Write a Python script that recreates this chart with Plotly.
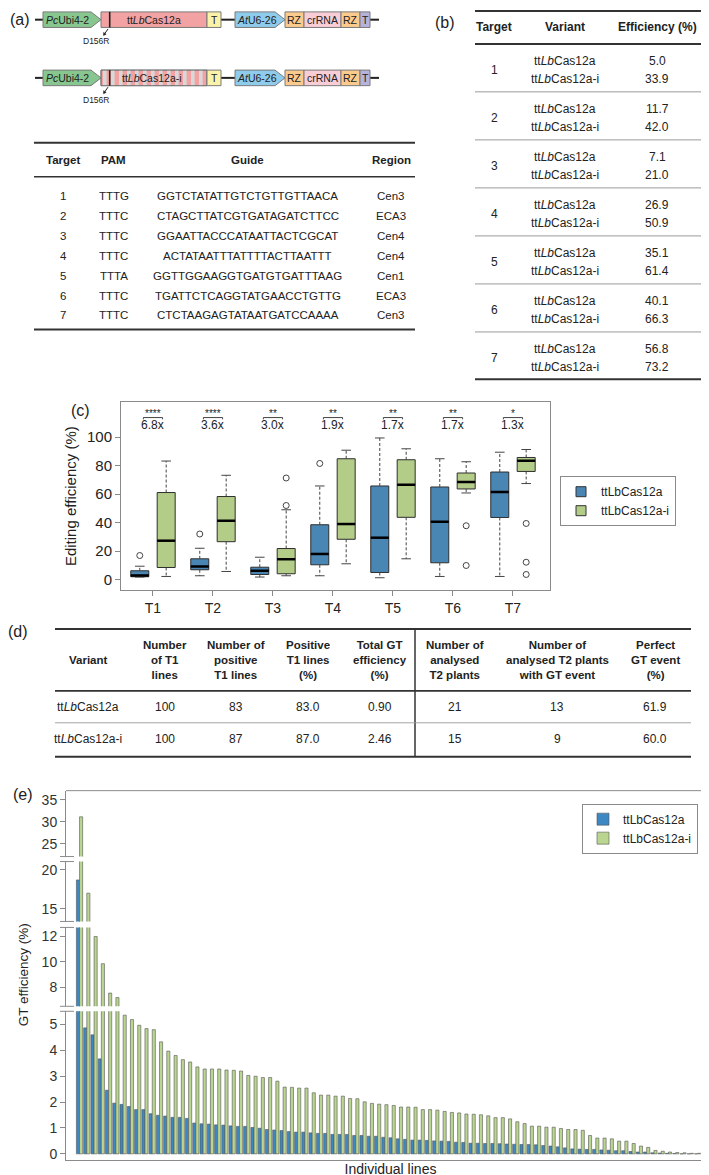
import plotly.graph_objects as go

W, H = 709, 1175
FONT = "Liberation Sans, Arial, sans-serif"

# ---------------- data ----------------
# (a) guide table
target_ids = ["1", "2", "3", "4", "5", "6", "7"]
pam_seqs = ["TTTG", "TTTC", "TTTC", "TTTC", "TTTA", "TTTC", "TTTC"]
guide_seqs = [
    "GGTCTATATTGTCTGTTGTTAACA",
    "CTAGCTTATCGTGATAGATCTTCC",
    "GGAATTACCCATAATTACTCGCAT",
    "ACTATAATTTATTTTACTTAATTT",
    "GGTTGGAAGGTGATGTGATTTAAG",
    "TGATTCTCAGGTATGAACCTGTTG",
    "CTCTAAGAGTATAATGATCCAAAA",
]
regions = ["Cen3", "ECA3", "Cen4", "Cen4", "Cen1", "ECA3", "Cen3"]

# (b) efficiency table
variant_names = ["ttLbCas12a", "ttLbCas12a-i"]
variant_html = ["tt<i>Lb</i>Cas12a", "tt<i>Lb</i>Cas12a-i"]
eff_std = [5.0, 11.7, 7.1, 26.9, 35.1, 40.1, 56.8]
eff_int = [33.9, 42.0, 21.0, 50.9, 61.4, 66.3, 73.2]

# (c) box-plot statistics
box_targets = ["T1", "T2", "T3", "T4", "T5", "T6", "T7"]
std_lo = [1.9, 2.8, 1.9, 2.8, 1.4, 2.3, 2.3]
std_q1 = [2.1, 7.0, 3.7, 10.5, 5.1, 11.9, 43.7]
std_med = [3.0, 9.3, 6.3, 18.1, 29.5, 40.7, 61.6]
std_q3 = [6.3, 14.7, 8.8, 38.6, 65.8, 65.1, 75.6]
std_hi = [9.5, 22.1, 15.8, 65.8, 99.5, 84.9, 89.5]
int_lo = [2.3, 5.8, 2.8, 11.2, 14.7, 60.9, 67.5]
int_q1 = [8.6, 26.7, 4.2, 28.4, 43.8, 63.7, 76.0]
int_med = [27.4, 41.4, 14.4, 39.1, 66.7, 68.6, 83.5]
int_q3 = [61.2, 58.4, 21.9, 84.9, 84.2, 74.9, 85.8]
int_hi = [83.3, 73.3, 49.1, 90.9, 91.9, 82.8, 91.4]
std_out = [[17.0], [32.1], [], [81.6], [], [], []]
int_out = [[], [], [71.4, 52.1], [], [], [37.9, 10.0], [39.5, 12.3, 3.7]]
sig_stars = ["****", "****", "**", "**", "**", "**", "*"]
fold_change = ["6.8x", "3.6x", "3.0x", "1.9x", "1.7x", "1.7x", "1.3x"]

# (d) GT table
d_headers = ["Variant", "Number<br>of T1<br>lines", "Number of<br>positive<br>T1 lines",
             "Positive<br>T1 lines<br>(%)", "Total GT<br>efficiency<br>(%)",
             "Number of<br>analysed<br>T2 plants", "Number of<br>analysed T2 plants<br>with GT event",
             "Perfect<br>GT event<br>(%)"]
d_std = ["100", "83", "83.0", "0.90", "21", "13", "61.9"]
d_int = ["100", "87", "87.0", "2.46", "15", "9", "60.0"]

# (e) GT efficiency per line
gt_std = [18.7, 4.87, 4.6, 3.67, 2.46, 1.96, 1.91, 1.83, 1.71, 1.71,
          1.55, 1.49, 1.46, 1.41, 1.41, 1.37, 1.19, 1.16, 1.15, 1.12,
          1.11, 1.08, 1.06, 1.06, 1.02, 0.99, 0.94, 0.92, 0.90, 0.86,
          0.84, 0.84, 0.81, 0.79, 0.79, 0.75, 0.75, 0.75, 0.71, 0.71,
          0.68, 0.68, 0.64, 0.62, 0.58, 0.56, 0.53, 0.53, 0.52, 0.50,
          0.49, 0.48, 0.45, 0.44, 0.41, 0.41, 0.40, 0.40, 0.39, 0.38,
          0.37, 0.36, 0.36, 0.35, 0.32, 0.30, 0.27, 0.23, 0.19, 0.18,
          0.17, 0.17, 0.15, 0.14, 0.12, 0.12, 0.09, 0.07, 0.07, 0.04,
          0.03, 0.02, 0.01, 0.0, 0.0, 0.0]
gt_int = [31.1, 17.0, 12.0, 9.86, 7.55, 7.2, 5.36, 5.19, 4.97, 4.84,
          4.80, 4.33, 3.97, 3.80, 3.64, 3.55, 3.36, 3.28, 3.28, 3.28,
          3.24, 3.23, 3.20, 3.03, 3.00, 2.95, 2.95, 2.81, 2.58, 2.57,
          2.54, 2.54, 2.36, 2.27, 2.27, 2.23, 2.23, 2.14, 2.13, 2.01,
          1.95, 1.92, 1.90, 1.87, 1.81, 1.81, 1.80, 1.71, 1.71, 1.69,
          1.64, 1.60, 1.58, 1.54, 1.53, 1.51, 1.47, 1.40, 1.40, 1.35,
          1.24, 1.17, 1.07, 1.07, 1.03, 1.03, 0.98, 0.94, 0.94, 0.91,
          0.71, 0.61, 0.61, 0.58, 0.49, 0.49, 0.40, 0.30, 0.25, 0.13,
          0.10, 0.07, 0.05, 0.04, 0.02, 0.02]
line_ids = list(range(len(gt_std)))

# ---------------- styles ----------------
BLUE_C, GREEN_C = "#4a86b4", "#b3cd88"
BLUE_E, GREEN_E = "#3d87c2", "#b9d58f"
AX = "#8a8a8a"

shapes, annotations = [], []


def xp(x):
    return x / W


def yp(y):
    return 1 - y / H


def text(x, y, s, size=12, anchor="center", color="#222", angle=0):
    annotations.append(dict(x=xp(x), y=yp(y), xref="paper", yref="paper", text=s,
                            showarrow=False, xanchor=anchor, yanchor="middle",
                            textangle=angle, font=dict(size=size, color=color, family=FONT)))


def hline(x0, x1, y, w=1.0, c="#333"):
    shapes.append(dict(type="line", xref="paper", yref="paper", x0=xp(x0), x1=xp(x1),
                       y0=yp(y), y1=yp(y), line=dict(width=w, color=c)))


def vline(x, y0, y1, w=1.0, c="#333"):
    shapes.append(dict(type="line", xref="paper", yref="paper", x0=xp(x), x1=xp(x),
                       y0=yp(y0), y1=yp(y1), line=dict(width=w, color=c)))


def rect(x0, x1, y0, y1, fill, lc="#7a7a7a", lw=1.0):
    shapes.append(dict(type="rect", xref="paper", yref="paper", x0=xp(x0), x1=xp(x1),
                       y0=yp(y1), y1=yp(y0), fillcolor=fill,
                       line=dict(width=lw, color=lc)))


def pentagon(x0, x1, y0, y1, fill, tip=10):
    yc = (y0 + y1) / 2
    path = (f"M {xp(x0)},{yp(y0)} L {xp(x1 - tip)},{yp(y0)} L {xp(x1)},{yp(yc)} "
            f"L {xp(x1 - tip)},{yp(y1)} L {xp(x0)},{yp(y1)} Z")
    shapes.append(dict(type="path", xref="paper", yref="paper", path=path,
                       fillcolor=fill, line=dict(width=1, color="#7a7a7a")))


# ---------------- (a) constructs ----------------
def construct(yc, label, striped):
    hh = 7.8
    y0, y1 = yc - hh, yc + hh
    for a, b in [(27, 35), (213, 227), (362, 371)]:
        hline(a, b, yc, 2, "#222")
    pentagon(35, 93, y0, y1, "#88c68f")
    rect(93, 199, y0, y1, "#f2a2a2")
    if striped:
        x = 95.0
        while x < 197:
            rect(x, min(x + 3.6, 199), y0, y1, "#d8d8d8", lw=0)
            x += 8.0
        rect(93, 199, y0, y1, "rgba(0,0,0,0)")
    vline(101.7, y0, y1, 1.6, "#222")
    rect(199, 213, y0, y1, "#faf2a8")
    pentagon(227, 277, y0, y1, "#8fcbeb")
    rect(277, 296, y0, y1, "#fbca8d")
    rect(296, 333, y0, y1, "#f9cdd6")
    rect(333, 352, y0, y1, "#fbca8d")
    rect(352, 362, y0, y1, "#b5b2db")
    text(59.5, yc, "<i>Pc</i>Ubi4-2", 10.5)
    text(146 if not striped else 144, yc, label, 10.5)
    text(206, yc, "T", 10.5)
    text(249, yc, "<i>At</i>U6-26", 10.5)
    text(286.5, yc, "RZ", 10.5)
    text(314.5, yc, "crRNA", 10.5)
    text(342.5, yc, "RZ", 10.5)
    text(357, yc, "T", 10.5)
    # D156R pointer
    shapes.append(dict(type="line", xref="paper", yref="paper", x0=xp(100), y0=yp(y1 + 1.5),
                       x1=xp(96.5), y1=yp(y1 + 6.5), line=dict(width=1, color="#222")))
    shapes.append(dict(type="path", xref="paper", yref="paper",
                       path=f"M {xp(95.5)},{yp(y1 + 8)} L {xp(95.6)},{yp(y1 + 5)} L {xp(98.2)},{yp(y1 + 6.8)} Z",
                       fillcolor="#222", line=dict(width=0.5, color="#222")))
    text(88, y1 + 14, "D156R", 8.5)


text(12, 12, "(a)", 16)
construct(11.7, "tt<i>Lb</i>Cas12a", False)
construct(70, "tt<i>Lb</i>Cas12a-i", True)

# ---------------- (a) table ----------------
cols_a = [55, 106, 240, 383]
hline(26, 407, 135, 2, "#333")
for cx, h in zip(cols_a, ["Target", "PAM", "Guide", "Region"]):
    text(cx, 152, f"<b>{h}</b>", 11.5)
hline(26, 407, 169, 1.6, "#333")
for i in range(len(target_ids)):
    yy = 188 + 20 * i
    for cx, v in zip(cols_a, [target_ids[i], pam_seqs[i], guide_seqs[i], regions[i]]):
        text(cx, yy, v, 11.5)
hline(26, 407, 322, 2, "#333")

# ---------------- (b) table ----------------
text(437, 15, "(b)", 16)
cols_b = [486, 557, 649]
hline(467, 698, 3, 2, "#333")
for cx, h in zip(cols_b, ["Target", "Variant", "Efficiency (%)"]):
    text(cx, 19, f"<b>{h}</b>", 12)
hline(467, 698, 36, 2, "#333")
for i in range(len(target_ids)):
    y1r = 53 + 48.1 * i
    text(cols_b[0], y1r + 9.2, target_ids[i], 12)
    text(cols_b[1], y1r, variant_html[0], 12)
    text(cols_b[1], y1r + 18.5, variant_html[1], 12)
    text(cols_b[2], y1r, f"{eff_std[i]:.1f}", 12)
    text(cols_b[2], y1r + 18.5, f"{eff_int[i]:.1f}", 12)
    if i < len(target_ids) - 1:
        hline(467, 698, y1r + 31, 1, "#9a9a9a")
hline(467, 698, 372, 2, "#333")

# ---------------- (d) table ----------------
text(10, 625, "(d)", 16)
cols_d = [80, 157, 228, 300, 372, 447, 549, 647]
hline(47, 683, 622, 2, "#333")
vline(407, 622, 750, 1.5, "#333")
for cx, h in zip(cols_d, d_headers):
    text(cx, 653, f"<b>{h}</b>", 11.5)
hline(47, 683, 684, 1.6, "#333")
for cx, v in zip(cols_d, [variant_html[0]] + d_std):
    text(cx, 700, v, 12)
hline(47, 683, 716, 0.9, "#9a9a9a")
for cx, v in zip(cols_d, [variant_html[1]] + d_int):
    text(cx, 732, v, 12)
hline(47, 683, 750, 2, "#333")

# ---------------- (c) box plot ----------------
text(72, 403, "(c)", 16)
fig = go.Figure()
OFF, BW = 0.22, 0.3
pos_std = [i - OFF for i in range(len(box_targets))]
pos_int = [i + OFF for i in range(len(box_targets))]


def segs(pos, a, b):
    xs, ys = [], []
    for p, u, v in zip(pos, a, b):
        xs += [p, p, None]
        ys += [u, v, None]
    return xs, ys


def caps(pos, vals, half):
    xs, ys = [], []
    for p, v in zip(pos, vals):
        xs += [p - half, p + half, None]
        ys += [v, v, None]
    return xs, ys


for pos, lo, q1, med, q3, hi, fill in [
    (pos_std, std_lo, std_q1, std_med, std_q3, std_hi, BLUE_C),
    (pos_int, int_lo, int_q1, int_med, int_q3, int_hi, GREEN_C),
]:
    for a, b in [(q3, hi), (q1, lo)]:
        xs, ys = segs(pos, a, b)
        fig.add_trace(go.Scatter(x=xs, y=ys, mode="lines", xaxis="x", yaxis="y",
                                 line=dict(color="#444", width=1, dash="3px,2px"),
                                 showlegend=False, hoverinfo="skip"))
        xs, ys = caps(pos, b, 0.08)
        fig.add_trace(go.Scatter(x=xs, y=ys, mode="lines", xaxis="x", yaxis="y",
                                 line=dict(color="#444", width=1),
                                 showlegend=False, hoverinfo="skip"))
    fig.add_trace(go.Box(x=pos, q1=q1, median=med, q3=q3, lowerfence=q1, upperfence=q3,
                         width=BW, fillcolor=fill, line=dict(color="#2e2e2e", width=1),
                         whiskerwidth=0, boxpoints=False, xaxis="x", yaxis="y",
                         showlegend=False, hoverinfo="skip"))
    xs, ys = caps(pos, med, BW / 2)
    fig.add_trace(go.Scatter(x=xs, y=ys, mode="lines", xaxis="x", yaxis="y",
                             line=dict(color="#000", width=2.5),
                             showlegend=False, hoverinfo="skip"))

ox, oy = [], []
for pos, outs in [(pos_std, std_out), (pos_int, int_out)]:
    for p, vals in zip(pos, outs):
        for v in vals:
            ox.append(p)
            oy.append(v)
fig.add_trace(go.Scatter(x=ox, y=oy, mode="markers", xaxis="x", yaxis="y",
                         marker=dict(symbol="circle-open", size=6, color="#444", line=dict(width=1)),
                         showlegend=False, hoverinfo="skip"))

# significance brackets
bx, by = [], []
for i in range(len(box_targets)):
    bx += [i - 0.16, i - 0.16, i + 0.16, i + 0.16, None]
    by += [112.6, 113.8, 113.8, 112.6, None]
    annotations.append(dict(x=i, y=117.0, xref="x", yref="y", text=sig_stars[i], showarrow=False,
                            font=dict(size=10, color="#222", family=FONT)))
    annotations.append(dict(x=i, y=108.3, xref="x", yref="y", text=fold_change[i], showarrow=False,
                            font=dict(size=12, color="#222", family=FONT)))
fig.add_trace(go.Scatter(x=bx, y=by, mode="lines", xaxis="x", yaxis="y",
                         line=dict(color="#444", width=1), showlegend=False, hoverinfo="skip"))

for name, col in zip(variant_names, [BLUE_C, GREEN_C]):
    fig.add_trace(go.Scatter(x=[None], y=[None], mode="markers", name=name, legend="legend",
                             xaxis="x", yaxis="y",
                             marker=dict(symbol="square", size=10, color=col,
                                         line=dict(color="#333", width=1))))

# ---------------- (e) broken-axis bars ----------------
text(15, 788, "(e)", 16)
seg_axes = ["y2", "y3", "y4", "y5"]
for k, ya in enumerate(seg_axes):
    for name, vals, col in [(variant_names[0], gt_std, BLUE_E), (variant_names[1], gt_int, GREEN_E)]:
        fig.add_trace(go.Bar(x=line_ids, y=vals, name=name, xaxis="x2", yaxis=ya,
                             marker=dict(color=col, line=dict(color="#555", width=0.6)),
                             legend="legend2", showlegend=(k == 0), hoverinfo="skip"))

# frame and break marks for (e)
hline(58, 707, 784, 1, AX)
vline(707, 784, 1154, 1, AX)
for yb in [1005, 1000, 921, 915, 855, 850]:
    hline(52, 66, yb, 1, AX)
text(15, 969, "GT efficiency (%)", 13.5, angle=-90)

seg_common = dict(anchor="x2", showline=True, linecolor=AX, linewidth=1, ticks="outside",
                  ticklen=5, tickcolor=AX, tickfont=dict(size=14, color="#333", family=FONT),
                  showgrid=False, zeroline=False)

fig.update_layout(
    width=W, height=H, autosize=False,
    margin=dict(l=0, r=0, t=0, b=0),
    paper_bgcolor="white", plot_bgcolor="white",
    font=dict(family=FONT, color="#222"),
    barmode="group", bargap=0.14, bargroupgap=0.0,
    showlegend=True,
    shapes=shapes, annotations=annotations,
    xaxis=dict(domain=[xp(113), xp(542)], range=[-0.533, 6.617], anchor="y",
               showline=True, mirror=True, linecolor=AX, linewidth=1,
               ticks="outside", ticklen=5, tickcolor=AX,
               tickvals=list(range(len(box_targets))), ticktext=box_targets,
               tickfont=dict(size=14, color="#222", family=FONT),
               showgrid=False, zeroline=False),
    yaxis=dict(domain=[yp(583), yp(395)], range=[-7.2, 124.5], anchor="x",
               showline=True, mirror=True, linecolor=AX, linewidth=1,
               ticks="outside", ticklen=5, tickcolor=AX,
               tickvals=[0, 20, 40, 60, 80, 100],
               tickfont=dict(size=15, color="#222", family=FONT),
               title=dict(text="Editing efficiency (%)", standoff=6,
                          font=dict(size=15, color="#222", family=FONT)),
               showgrid=False, zeroline=False),
    xaxis2=dict(domain=[xp(58), xp(707)], range=[-1.86, 87.4], anchor="y2",
                showline=True, linecolor=AX, linewidth=1, ticks="", showticklabels=False,
                showgrid=False, zeroline=False,
                title=dict(text="Individual lines", standoff=4,
                           font=dict(size=14, color="#222", family=FONT))),
    yaxis2=dict(domain=[yp(1154), yp(1005)], range=[-0.24, 5.51], tickvals=[0, 1, 2, 3, 4, 5], **seg_common),
    yaxis3=dict(domain=[yp(1000), yp(921)], range=[6.51, 12.71], tickvals=[8, 10, 12], **seg_common),
    yaxis4=dict(domain=[yp(915), yp(855)], range=[13.37, 21.06], tickvals=[15, 20], **seg_common),
    yaxis5=dict(domain=[yp(850), yp(784)], range=[22.05, 37.05], tickvals=[25, 30, 35], **seg_common),
    legend=dict(x=xp(610), y=yp(469), xanchor="center", yanchor="top",
                bordercolor="#8a8a8a", borderwidth=1, bgcolor="white",
                font=dict(size=12, color="#222", family=FONT), itemwidth=30,
                tracegroupgap=0),
    legend2=dict(x=xp(690), y=yp(797), xanchor="right", yanchor="top",
                 bordercolor="#8a8a8a", borderwidth=1, bgcolor="white",
                 font=dict(size=12, color="#222", family=FONT), itemwidth=30,
                 tracegroupgap=0),
)

fig.write_html("out.html")
